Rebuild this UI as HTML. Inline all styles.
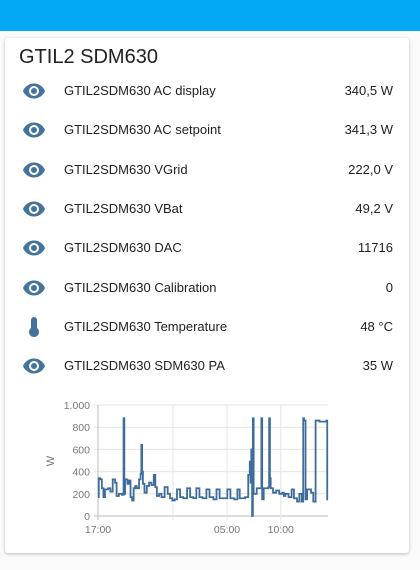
<!DOCTYPE html>
<html><head><meta charset="utf-8"><style>
body{margin:0;width:420px;height:570px;background:#fafafa;font-family:"Liberation Sans",sans-serif;overflow:hidden;position:relative}
.hdr{position:absolute;left:0;top:0;width:420px;height:31px;background:#03a9f4}
.card{position:absolute;left:5px;top:38px;width:404px;height:515px;background:#fff;border-radius:3px;box-shadow:0 1px 3px rgba(0,0,0,.25)}
.title{position:absolute;left:14px;top:8px;font-size:20px;color:#212121}
.row{position:absolute;left:0;width:404px;height:24px;font-size:13px;color:#212121}
.row svg{position:absolute;left:17px;top:0}
.row .lbl{position:absolute;left:59px;top:4px}
.row .val{position:absolute;right:16px;top:4px}
</style></head><body>
<div class="hdr"></div>
<div class="card">
<div class="title">GTIL2 SDM630</div>
<div id="rows"></div>
<svg id="chart" width="404" height="180" style="position:absolute;left:0;top:320px"></svg>
</div>
<script>
const labels=["GTIL2SDM630 AC display","GTIL2SDM630 AC setpoint","GTIL2SDM630 VGrid","GTIL2SDM630 VBat","GTIL2SDM630 DAC","GTIL2SDM630 Calibration","GTIL2SDM630 Temperature","GTIL2SDM630 SDM630 PA"];
const vals=["340,5 W","341,3 W","222,0 V","49,2 V","11716","0","48 °C","35 W"];
const eye='<svg width="24" height="24" viewBox="0 0 24 24"><path fill="#44739e" d="M12 4.5C7 4.5 2.7 7.6 1 12c1.7 4.4 6 7.5 11 7.5s9.3-3.1 11-7.5c-1.7-4.4-6-7.5-11-7.5zM12 17a5 5 0 110-10 5 5 0 010 10zm0-8a3 3 0 100 6 3 3 0 000-6z"/></svg>';
const therm='<svg width="24" height="24" viewBox="0 0 24 24"><path fill="#44739e" d="M15 13V5a3 3 0 00-6 0v8a5 5 0 106 0z"/></svg>';
const rc=document.getElementById('rows');
labels.forEach((l,i)=>{const d=document.createElement('div');d.className='row';d.style.top=(41+i*39.3)+'px';


d.innerHTML=(i==6?therm:eye)+'<span class="lbl">'+l+'</span><span class="val">'+vals[i]+'</span>';rc.appendChild(d);});

const times=[0,0.1,0.3,0.5,0.7,0.9,1.3,1.6,1.9,2.2,2.4,2.7,3.1,3.3,3.4,3.5,3.8,4.0,4.2,4.4,4.6,4.8,5.0,5.3,5.5,5.6,5.7,5.8,6.0,6.3,6.6,6.9,7.2,7.4,7.6,7.9,8.2,8.6,9.0,9.3,9.6,9.9,10.2,10.6,11.0,11.5,11.9,12.3,12.7,13.1,13.5,14.0,14.4,14.9,15.3,15.7,16.3,16.7,17.1,17.6,18.0,18.3,19.0,19.4,19.6,19.7,19.8,19.9,20.0,20.1,20.5,21.0,21.1,21.2,21.4,22.0,22.1,22.2,22.3,22.6,23.0,23.4,23.8,24.0,24.2,24.6,25.0,25.3,25.7,26.0,26.3,26.5,26.6,26.8,27.0,27.5,27.8,28.1,28.6,29.5,29.6];
const power=[170,340,330,250,170,240,250,220,330,300,180,200,190,880,200,330,290,320,170,140,250,270,250,330,380,640,400,290,210,270,300,280,370,260,180,200,170,260,200,160,140,150,240,170,160,250,170,160,250,170,160,240,170,150,240,160,160,240,160,150,240,160,170,370,490,300,600,0,880,200,250,250,880,150,250,260,880,340,250,210,230,200,210,180,200,170,240,160,130,200,130,880,860,150,240,210,130,860,850,860,150];
const yTicks=[0,200,400,600,800,1000];
const yTickLabels=["0","200","400","600","800","1.000"];
const xTicks=[0,9.68,16.66,23.6];
const xTickLabels=["17:00","","05:00","10:00"];
const X0=93,X1=323,Y0=158,Y1=47,TMAX=29.7;
const xs=t=>X0+(X1-X0)*t/TMAX, ys=v=>Y0-(Y0-Y1)*v/1000;
const svg=document.getElementById('chart');const NS='http://www.w3.org/2000/svg';
function mk(tag,at,txt){const e=document.createElementNS(NS,tag);for(const k in at)e.setAttribute(k,at[k]);if(txt!=null)e.textContent=txt;svg.appendChild(e);return e;}
yTicks.forEach((v,i)=>{const g=mk('line',{x1:X0-4,x2:X1,y1:ys(v),y2:ys(v),stroke:i==0?'#bbb':'#e4e4e4'});


const t=mk('text',{x:X0-8,y:ys(v)+4,'text-anchor':'end','font-size':10.5,fill:'#777','font-family':'Liberation Sans'},yTickLabels[i]);

});
xTicks.forEach((v,i)=>{const g=mk('line',{x1:xs(v),x2:xs(v),y1:Y1,y2:Y0+4,stroke:i==0?'#bbb':'#e4e4e4'});


const t=mk('text',{x:xs(v),y:Y0+17,'text-anchor':'middle','font-size':10.5,fill:'#777','font-family':'Liberation Sans'},xTickLabels[i]);

});
const yt=mk('text',{x:0,y:0,transform:'translate(49,103) rotate(-90)','text-anchor':'middle','font-size':11,fill:'#777','font-family':'Liberation Sans'},'W');


let d='';times.forEach((t,i)=>{const x=xs(t),y=ys(power[i]);if(i==0)d+='M'+x+' '+y;else d+='H'+x+'V'+y;});
d+='H'+X1;
const p=mk('path',{d:d,fill:'none',stroke:'#3e6d9c','stroke-width':1.8});


</script>
</body></html>
